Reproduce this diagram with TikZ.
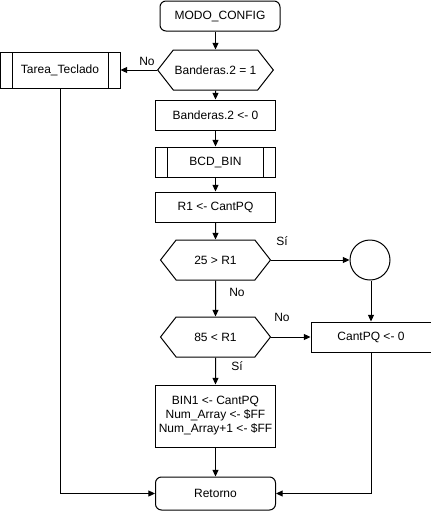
\documentclass[tikz,border=0pt]{standalone}
\usepackage{fontspec}
\setmainfont{Liberation Sans}
\usetikzlibrary{shapes.symbols,arrows.meta,positioning}

\begin{document}
\begin{tikzpicture}[x=0.75pt,y=-0.75pt,
    >={Triangle[length=5pt,width=4.5pt]},
    font=\fontsize{9}{10.5}\selectfont,
    base/.style={draw,line width=0.75pt,inner sep=1pt,align=center},
    process/.style={base,rectangle,minimum width=90pt,minimum height=22.5pt},
    term/.style={process,rounded corners=4.5pt},
    subproc/.style={process,path picture={
        \draw[line width=0.75pt] ([xshift=9pt]path picture bounding box.north west) -- ([xshift=9pt]path picture bounding box.south west);
        \draw[line width=0.75pt] ([xshift=-9pt]path picture bounding box.north east) -- ([xshift=-9pt]path picture bounding box.south east);}},
    decision/.style={base,signal,signal to=west and east,signal pointer angle=104,
        minimum width=82.5pt,minimum height=30pt},
    joint/.style={base,circle,minimum size=30pt},
    lbl/.style={inner sep=0pt}]
   \useasboundingbox (0,0) rectangle (431,511);
   % main column
   \node [term] (modo) at (220,16) {MODO\_CONFIG};
   \node [decision] (band1) at (215.5,70) {Banderas.2 = 1};
   \node [subproc, minimum height=27pt] (tarea) at (60,70) {Tarea\_Teclado};
   \node [process] (band0) at (215.5,115) {Banderas.2 \textless- 0};
   \node [subproc] (bcd) at (215.5,162) {BCD\_BIN};
   \node [process] (r1) at (215.5,207) {R1 \textless- CantPQ};
   \node [decision] (menor) at (215.5,260) {25 \textgreater{} R1};
   \node [decision] (mayor) at (215.5,337) {85 \textless{} R1};
   \node [process, minimum height=46.5pt] (bin1) at (215.5,416)
      {BIN1 \textless- CantPQ\\Num\_Array \textless- \$FF\\Num\_Array+1 \textless- \$FF};
   \node [term, minimum height=24.75pt] (ret) at (215.5,493.5) {Retorno};
   % right branch
   \node [joint] (unir) at (370,260) {};
   \node [process] (cero) at (371,337) {CantPQ \textless- 0};
   % labels
   \node [lbl] (noA) at (147,61) {No};
   \node [lbl] (siA) at (282,241) {Sí};
   \node [lbl] (noB) at (237,292) {No};
   \node [lbl] (noC) at (282,317) {No};
   \node [lbl] (siB) at (237,366) {Sí};
    \path[->,line width=0.75pt]
    (modo.south -| band1.north) edge (band1.north)
    (band1.west) edge (tarea.east)
    (band1) edge (band0)
    (band0) edge (bcd)
    (bcd) edge (r1)
    (r1) edge (menor)
    (menor.east) edge (unir)
    (menor) edge (mayor)
    (mayor.east) edge (cero)
    (mayor) edge (bin1)
    (bin1) edge (ret)
    (unir.south -| cero.north) edge (cero.north);
   \draw[->,line width=0.75pt] (tarea) |- (ret);
   \draw[->,line width=0.75pt] (cero) |- (ret);
\end{tikzpicture}
\end{document}
